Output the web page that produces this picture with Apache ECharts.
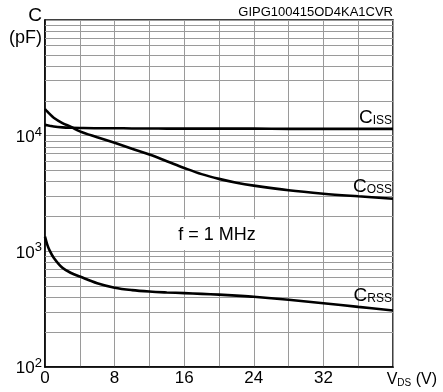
<!DOCTYPE html>
<html>
<head>
<meta charset="utf-8">
<script src="https://cdn.jsdelivr.net/npm/echarts@6/dist/echarts.min.js"></script>
<style>
  html, body { margin: 0; padding: 0; background: #fff; }
  #chart { width: 443px; height: 392px; }
</style>
</head>
<body>
<div id="chart"></div>
<script>
// V_DS (V)
var vds  = [0, 0.25, 0.5, 1, 2, 3, 4, 6, 8, 10, 12, 14, 16, 18, 20, 22, 24, 28, 32, 36, 40];
// capacitances (pF)
var ciss = [12400, 12300, 12200, 12000, 11800, 11700, 11650, 11600, 11600, 11550, 11550, 11500, 11500, 11500, 11500, 11500, 11500, 11450, 11450, 11450, 11450];
var coss = [17000, 16200, 15500, 14300, 12850, 11900, 10900, 9700, 8670, 7700, 6860, 6010, 5260, 4650, 4230, 3920, 3700, 3370, 3150, 2990, 2850];
var crss = [1340, 1150, 1030, 880, 720, 650, 605, 530, 485, 462, 449, 441, 435, 429, 422, 414, 405, 381, 356, 331, 308];
// minor log gridlines
var minorLines = [200, 300, 400, 500, 600, 700, 800, 900,
                  2000, 3000, 4000, 5000, 6000, 7000, 8000, 9000,
                  20000, 30000, 40000, 50000, 60000, 70000, 80000, 90000];
var xLabels = [0, 8, 16, 24, 32];

var font = 'Liberation Sans, Arial, sans-serif';

function pairs(ys) {
    return vds.map(function (v, i) { return [v, ys[i]]; });
}

function curve(name, ys) {
    return {
        name: name,
        type: 'line',
        smooth: 0.35,
        showSymbol: false,
        z: 5,
        lineStyle: { color: '#000', width: 2.6 },
        data: pairs(ys)
    };
}

function subLabel(main, sub) {
    return {
        text: '{c|' + main + '}{s|' + sub + '}', align: 'right', verticalAlign: 'bottom',
        rich: {
            c: { font: '19px ' + font, fill: '#000', lineHeight: 20, verticalAlign: 'bottom' },
            s: { font: '12px ' + font, fill: '#000', lineHeight: 12, verticalAlign: 'bottom' }
        }
    };
}

var chart = echarts.init(document.getElementById('chart'));
chart.setOption({
    animation: false,
    grid: { left: 45, right: 50, top: 20, bottom: 25, show: true, borderColor: '#000', borderWidth: 1.5 },
    xAxis: {
        type: 'value',
        min: 0,
        max: 40,
        interval: 4,
        axisLine: { lineStyle: { color: '#000', width: 1.5 } },
        axisTick: { show: false },
        splitLine: { lineStyle: { color: '#9a9a9a', width: 1 } },
        axisLabel: {
            margin: 3,
            color: '#000',
            fontFamily: font,
            fontSize: 17,
            formatter: function (v) { return xLabels.indexOf(v) >= 0 ? String(v) : ''; }
        }
    },
    yAxis: {
        type: 'log',
        logBase: 10,
        min: 100,
        max: 100000,
        splitNumber: 3,
        axisLine: { lineStyle: { color: '#000', width: 1.5 } },
        axisTick: { show: false },
        splitLine: { lineStyle: { color: '#9a9a9a', width: 1 } },
        axisLabel: {
            margin: 3,
            formatter: function (v) {
                var e = Math.round(Math.log10(v));
                if (e >= 5) return '';
                return '{b|10}{s|' + e + '}';
            },
            rich: {
                b: { fontFamily: font, fontSize: 17, color: '#000', lineHeight: 20, verticalAlign: 'bottom' },
                s: { fontFamily: font, fontSize: 13, color: '#000', lineHeight: 14, verticalAlign: 'top' }
            }
        }
    },
    series: [
        {
            name: 'grid',
            type: 'line',
            data: [],
            z: 1,
            silent: true,
            markLine: {
                silent: true,
                symbol: 'none',
                label: { show: false },
                lineStyle: { color: '#9a9a9a', width: 1, type: 'solid' },
                data: minorLines.map(function (v) { return { yAxis: v }; })
            }
        },
        curve('Ciss', ciss),
        curve('Coss', coss),
        curve('Crss', crss)
    ],
    graphic: [
        { type: 'text', right: 401, top: 6, style: { text: 'C', font: '19px ' + font, fill: '#000' } },
        { type: 'text', right: 401, top: 29, style: { text: '(pF)', font: '18px ' + font, fill: '#000' } },
        { type: 'text', right: 50, top: 6, style: { text: 'GIPG100415OD4KA1CVR', font: '13px ' + font, fill: '#000' } },
        { type: 'rect', z: 10, shape: { x: 167, y: 219, width: 99, height: 31 }, style: { fill: '#fff' } },
        {
            type: 'text', z: 11, x: 217, y: 235,
            style: { text: 'f = 1 MHz', font: '18px ' + font, fill: '#000', align: 'center', verticalAlign: 'middle' }
        },
        { type: 'text', z: 11, x: 392, y: 127, style: subLabel('C', 'ISS') },
        { type: 'text', z: 11, x: 392, y: 196, style: subLabel('C', 'OSS') },
        { type: 'text', z: 11, x: 392, y: 305, style: subLabel('C', 'RSS') },
        {
            type: 'text', z: 11, x: 437, y: 388,
            style: {
                text: '{v|V}{s|DS}{v| (V)}', align: 'right', verticalAlign: 'bottom',
                rich: {
                    v: { font: '16px ' + font, fill: '#000', lineHeight: 18, verticalAlign: 'bottom' },
                    s: { font: '10px ' + font, fill: '#000', lineHeight: 13, verticalAlign: 'bottom' }
                }
            }
        }
    ]
});
</script>
</body>
</html>
